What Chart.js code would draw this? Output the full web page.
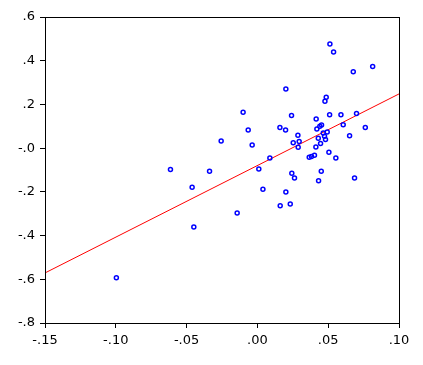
<!DOCTYPE html>
<html>
<head>
<meta charset="utf-8">
<script src="https://cdn.jsdelivr.net/npm/chart.js@4/dist/chart.umd.min.js"></script>
<style>
  html, body { margin: 0; padding: 0; background: #fff; }
  #wrap { width: 423px; height: 365px; }
</style>
</head>
<body>
<div id="wrap"><canvas id="chart" width="423" height="365"></canvas></div>
<script>
// Scatter points
const xVals = [0.0512, 0.0538, 0.0677, 0.0814, 0.0201, 0.0486, 0.0477, -0.0101, 0.0241, 0.0510,
  0.0590, 0.0700, 0.0415, 0.0606, 0.0441, 0.0453, 0.0420, 0.0159, 0.0199, -0.0065,
  0.0762, 0.0465, 0.0493, 0.0474, 0.0651, 0.0286, 0.0430, 0.0481, 0.0295, 0.0253,
  0.0446, -0.0256, -0.0037, 0.0413, 0.0288, 0.0505, 0.0088, 0.0366, 0.0382, 0.0403,
  0.0554, -0.0614, -0.0338, 0.0010, 0.0243, 0.0451, 0.0262, 0.0686, 0.0432, -0.0461,
  0.0039, 0.0201, -0.0143, 0.0161, 0.0232, -0.0449, -0.0996];
const yVals = [0.476, 0.440, 0.350, 0.373, 0.271, 0.233, 0.214, 0.164, 0.149, 0.153,
  0.153, 0.159, 0.133, 0.107, 0.100, 0.106, 0.088, 0.094, 0.083, 0.083,
  0.094, 0.069, 0.074, 0.054, 0.057, 0.059, 0.045, 0.039, 0.030, 0.025,
  0.021, 0.033, 0.014, 0.005, 0.004, -0.019, -0.045, -0.042, -0.038, -0.033,
  -0.045, -0.098, -0.106, -0.095, -0.115, -0.106, -0.137, -0.137, -0.149, -0.179,
  -0.188, -0.201, -0.297, -0.263, -0.256, -0.361, -0.593];

// Fitted line, ends read at the plot edges
const fitX = [-0.15, 0.10];
const fitY = [-0.571, 0.248];

// Axis ranges
const xMin = -0.15, xMax = 0.10, xStep = 0.05;
const yMin = -0.8, yMax = 0.6, yStep = 0.2;

const points = xVals.map((x, i) => ({ x: x, y: yVals[i] }));
const fitLine = fitX.map((x, i) => ({ x: x, y: fitY[i] }));

// Labels like ".6", "-.2", ".05"
function fmt(v, d) {
  return v.toFixed(d).replace(/^(-?)0\./, '$1.');
}

// Draw a full box round the plot
const boxPlugin = {
  id: 'box',
  afterDraw(chart) {
    const a = chart.chartArea;
    const ctx = chart.ctx;
    ctx.save();
    ctx.strokeStyle = '#000';
    ctx.lineWidth = 1;
    ctx.strokeRect(Math.round(a.left) + 0.5, Math.round(a.top) + 0.5,
      Math.round(a.right - a.left), Math.round(a.bottom - a.top));
    ctx.restore();
  }
};

const tickFont = { family: 'DejaVu Sans', size: 13 };

new Chart(document.getElementById('chart').getContext('2d'), {
  type: 'scatter',
  data: {
    datasets: [
      {
        label: 'fit',
        data: fitLine,
        showLine: true,
        borderColor: '#ff0000',
        borderWidth: 1,
        pointRadius: 0,
        order: 2
      },
      {
        label: 'points',
        data: points,
        pointStyle: 'circle',
        pointRadius: 2,
        pointBorderWidth: 1.5,
        pointBorderColor: '#0000ff',
        pointBackgroundColor: 'rgba(0,0,0,0)',
        order: 1
      }
    ]
  },
  options: {
    responsive: false,
    animation: false,
    layout: { padding: { top: 17, right: 24, left: 0, bottom: 0 } },
    plugins: { legend: { display: false }, tooltip: { enabled: false } },
    scales: {
      x: {
        type: 'linear',
        min: xMin, max: xMax,
        afterFit(s) { s.height = 42; },
        ticks: {
          stepSize: xStep,
          color: '#000',
          font: tickFont,
          padding: 5,
          maxRotation: 0,
          callback: v => fmt(v, 2)
        },
        grid: { drawOnChartArea: false, drawTicks: true, tickLength: 5, color: '#000' },
        border: { display: true, color: '#000' }
      },
      y: {
        type: 'linear',
        min: yMin, max: yMax,
        afterFit(s) { s.width = 45; },
        ticks: {
          stepSize: yStep,
          color: '#000',
          font: tickFont,
          padding: 5,
          callback: v => fmt(v, 1)
        },
        grid: { drawOnChartArea: false, drawTicks: true, tickLength: 5, color: '#000' },
        border: { display: true, color: '#000' }
      }
    }
  },
  plugins: [boxPlugin]
});
</script>
</body>
</html>
